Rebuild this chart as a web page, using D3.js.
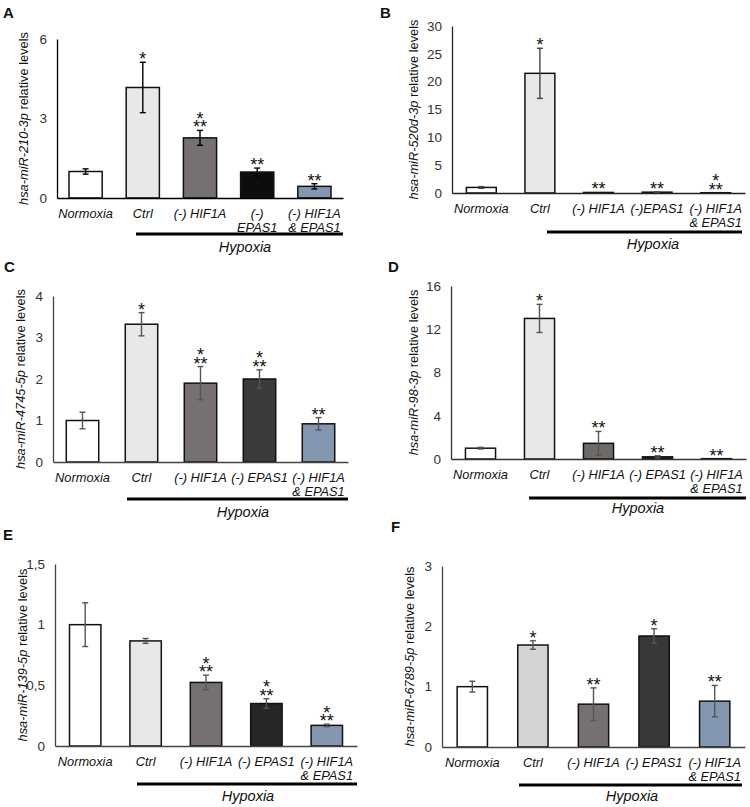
<!DOCTYPE html>
<html><head><meta charset="utf-8">
<script src="https://cdn.jsdelivr.net/npm/d3@7"></script>
<style>
html,body{margin:0;padding:0;background:#fff;}
svg{display:block;font-family:"Liberation Sans",Arial,sans-serif;}
</style></head>
<body><svg id="chart" width="750" height="807"></svg>
<script>
// ---------- DATA ----------
const categories = ["Normoxia", "Ctrl", "(-) HIF1A", "(-) EPAS1", "(-) HIF1A & EPAS1"];

const labelsA = [["Normoxia"], ["Ctrl"], ["(-) HIF1A"], ["(-)", "EPAS1"], ["(-) HIF1A", "& EPAS1"]];
const labelsB = [["Normoxia"], ["Ctrl"], ["(-) HIF1A"], ["(-)EPAS1"], ["(-) HIF1A", "& EPAS1"]];
const labelsStd = [["Normoxia"], ["Ctrl"], ["(-) HIF1A"], ["(-) EPAS1"], ["(-) HIF1A", "& EPAS1"]];

const mirnaNames = ["hsa-miR-210-3p", "hsa-miR-520d-3p", "hsa-miR-4745-5p", "hsa-miR-98-3p", "hsa-miR-139-5p", "hsa-miR-6789-5p"];

const valuesA = [1.0, 4.17, 2.27, 0.98, 0.44];
const errorsA = [0.1, 0.95, 0.28, 0.15, 0.1];
const signifA = [[], ["*"], ["*", "**"], ["**"], ["**"]];
const ticksA = [0, 3, 6];

const valuesB = [1.0, 21.5, 0.1, 0.15, 0.05];
const errorsB = [0.15, 4.5, 0, 0.05, 0];
const signifB = [[], ["*"], ["**"], ["**"], ["*", "**"]];
const ticksB = [0, 5, 10, 15, 20, 25, 30];

const valuesC = [1.0, 3.32, 1.9, 2.0, 0.92];
const errorsC = [0.2, 0.28, 0.4, 0.22, 0.15];
const signifC = [[], ["*"], ["*", "**"], ["*", "**"], ["**"]];
const ticksC = [0, 1, 2, 3, 4];

const valuesD = [1.0, 13.0, 1.45, 0.2, 0.03];
const errorsD = [0.08, 1.3, 1.1, 0.1, 0];
const signifD = [[], ["*"], ["**"], ["**"], ["**"]];
const ticksD = [0, 4, 8, 12, 16];

const valuesE = [1.0, 0.866, 0.524, 0.35, 0.17];
const errorsE = [0.18, 0.02, 0.06, 0.04, 0.01];
const signifE = [[], [], ["*", "**"], ["*", "**"], ["*", "**"]];
const ticksE = [0, 0.5, 1, 1.5];
const tickLabelsE = ["0", "0,5", "1", "1,5"];

const valuesF = [1.0, 1.69, 0.71, 1.84, 0.76];
const errorsF = [0.09, 0.07, 0.27, 0.12, 0.26];
const signifF = [[], ["*"], ["**"], ["*"], ["**"]];
const ticksF = [0, 1, 2, 3];

const groupLabel = "Hypoxia";

// ---------- LAYOUT / STYLE ----------
const panels = [
  {letter:"A", lx:3, ly:18, ax:57, top:39, zero:198, right:343, pad:0.42, hyp:[136,343], hypY:234, hypT:252, hypX:245, ylx:28,
   values:valuesA, errors:errorsA, signif:signifA, ticks:ticksA, tickLabels:null, labels:labelsA, name:mirnaNames[0],
   colors:["#ffffff","#e8e8e8","#767170","#0d0d0d","#8497b0"], axis:"#000", err:"#000"},
  {letter:"B", lx:380, ly:18, ax:452, top:26, zero:193, right:745, pad:0.49, hyp:[547,742], hypY:232, hypT:249, hypX:653, ylx:418,
   values:valuesB, errors:errorsB, signif:signifB, ticks:ticksB, tickLabels:null, labels:labelsB, name:mirnaNames[1],
   colors:["#ffffff","#e8e8e8","#767170","#262626","#8497b0"], axis:"#222", err:"#444"},
  {letter:"C", lx:4, ly:272, ax:53, top:296, zero:462, right:348, pad:0.45, hyp:[127,348], hypY:499, hypT:517, hypX:243, ylx:25,
   values:valuesC, errors:errorsC, signif:signifC, ticks:ticksC, tickLabels:null, labels:labelsStd, name:mirnaNames[2],
   colors:["#ffffff","#e8e8e8","#767170","#3a3a3a","#8497b0"], axis:"#444", err:"#555"},
  {letter:"D", lx:388, ly:272, ax:451, top:286, zero:459, right:746, pad:0.49, hyp:[529,746], hypY:498, hypT:513, hypX:638, ylx:418,
   values:valuesD, errors:errorsD, signif:signifD, ticks:ticksD, tickLabels:null, labels:labelsStd, name:mirnaNames[3],
   colors:["#ffffff","#e8e8e8","#6e6a68","#262626","#8497b0"], axis:"#333", err:"#555"},
  {letter:"E", lx:3, ly:540, ax:55, top:564, zero:746, right:357, pad:0.48, hyp:[137,357], hypY:784, hypT:801, hypX:248, ylx:27,
   values:valuesE, errors:errorsE, signif:signifE, ticks:ticksE, tickLabels:tickLabelsE, labels:labelsStd, name:mirnaNames[4],
   colors:["#ffffff","#e8e8e8","#767170","#262626","#8497b0"], axis:"#444", err:"#555"},
  {letter:"F", lx:391, ly:532, ax:442, top:566, zero:747, right:745, pad:0.5, hyp:[519,742], hypY:785, hypT:801, hypX:632, ylx:414,
   values:valuesF, errors:errorsF, signif:signifF, ticks:ticksF, tickLabels:null, labels:labelsStd, name:mirnaNames[5],
   colors:["#ffffff","#d4d4d4","#767170","#383838","#8497b0"], axis:"#444", err:"#555"}
];

const svg = d3.select("#chart");

panels.forEach(p => {
  const g = svg.append("g");
  const maxT = p.ticks[p.ticks.length - 1];
  const y = d3.scaleLinear().domain([0, maxT]).range([p.zero, p.top]);
  const x = d3.scaleBand().domain(categories).range([p.ax, p.right])
    .paddingInner(p.pad).paddingOuter(p.pad / 2);

  // panel letter
  g.append("text").attr("x", p.lx).attr("y", p.ly)
    .attr("font-size", 15).attr("font-weight", "bold").attr("fill", "#111").text(p.letter);

  // y axis
  const yAxis = d3.axisLeft(y).tickValues(p.ticks).tickSize(0).tickSizeOuter(0).tickPadding(10)
    .tickFormat((d, i) => p.tickLabels ? p.tickLabels[i] : d);
  const ya = g.append("g").attr("transform", `translate(${p.ax},0)`).call(yAxis);
  ya.select(".domain").attr("stroke", p.axis).attr("stroke-width", 1.3);
  ya.selectAll("text").attr("font-size", 13.5).attr("fill", "#333")
    .attr("font-family", "\"Liberation Sans\",Arial,sans-serif");

  // y label
  const yl = g.append("text")
    .attr("transform", `translate(${p.ylx},${(p.top + p.zero) / 2}) rotate(-90)`)
    .attr("text-anchor", "middle").attr("font-size", 12.8).attr("fill", "#111");
  yl.append("tspan").attr("font-style", "italic").text(p.name);
  yl.append("tspan").text(" relative levels");

  // bars
  g.selectAll("rect.bar").data(categories).join("rect")
    .attr("x", d => x(d)).attr("width", x.bandwidth())
    .attr("y", (d, i) => y(p.values[i]))
    .attr("height", (d, i) => Math.max(0, p.zero - y(p.values[i])))
    .attr("fill", (d, i) => p.colors[i])
    .attr("stroke", "#111").attr("stroke-width", 1.5);

  // x axis baseline
  const xAxis = d3.axisBottom(x).tickSize(0).tickSizeOuter(0).tickFormat("");
  const xa = g.append("g").attr("transform", `translate(0,${p.zero})`).call(xAxis);
  xa.select(".domain").attr("stroke", p.axis).attr("stroke-width", 1.3);

  // category labels
  categories.forEach((c, i) => {
    const t = g.append("text").attr("x", x(c) + x.bandwidth() / 2).attr("y", p.zero + 19.5)
      .attr("text-anchor", "middle").attr("font-size", 12.8).attr("font-style", "italic").attr("fill", "#111");
    p.labels[i].forEach((line, k) => {
      t.append("tspan").attr("x", x(c) + x.bandwidth() / 2).attr("dy", k === 0 ? 0 : 14.3).text(line);
    });
  });

  // error bars
  categories.forEach((c, i) => {
    const e = p.errors[i];
    if (e <= 0) return;
    const cx = x(c) + x.bandwidth() / 2;
    const y1 = y(p.values[i] + e), y0 = y(Math.max(0, p.values[i] - e));
    const eg = g.append("g").attr("stroke", p.err).attr("stroke-width", 1.4);
    eg.append("line").attr("x1", cx).attr("x2", cx).attr("y1", y1).attr("y2", y0);
    eg.append("line").attr("x1", cx - 3).attr("x2", cx + 3).attr("y1", y1).attr("y2", y1);
    eg.append("line").attr("x1", cx - 3).attr("x2", cx + 3).attr("y1", y0).attr("y2", y0);
  });

  // significance stars (one text per bar, rows as tspans)
  categories.forEach((c, i) => {
    const s = p.signif[i];
    if (!s.length) return;
    const cx = x(c) + x.bandwidth() / 2;
    const topV = y(p.values[i] + p.errors[i]);
    const rowGap = 8.5;
    const t = g.append("text").attr("x", cx).attr("y", topV + 3 - (s.length - 1) * rowGap)
      .attr("text-anchor", "middle").attr("font-size", 18).attr("fill", "#111");
    s.forEach((str, k) => {
      t.append("tspan").attr("x", cx).attr("dy", k === 0 ? 0 : rowGap).text(str);
    });
  });

  // hypoxia bar
  g.append("line").attr("x1", p.hyp[0]).attr("x2", p.hyp[1]).attr("y1", p.hypY).attr("y2", p.hypY)
    .attr("stroke", "#000").attr("stroke-width", 3.2);
  g.append("text").attr("x", p.hypX).attr("y", p.hypT).attr("text-anchor", "middle")
    .attr("font-size", 14.5).attr("font-style", "italic").attr("fill", "#111").text(groupLabel);
});
</script></body></html>
